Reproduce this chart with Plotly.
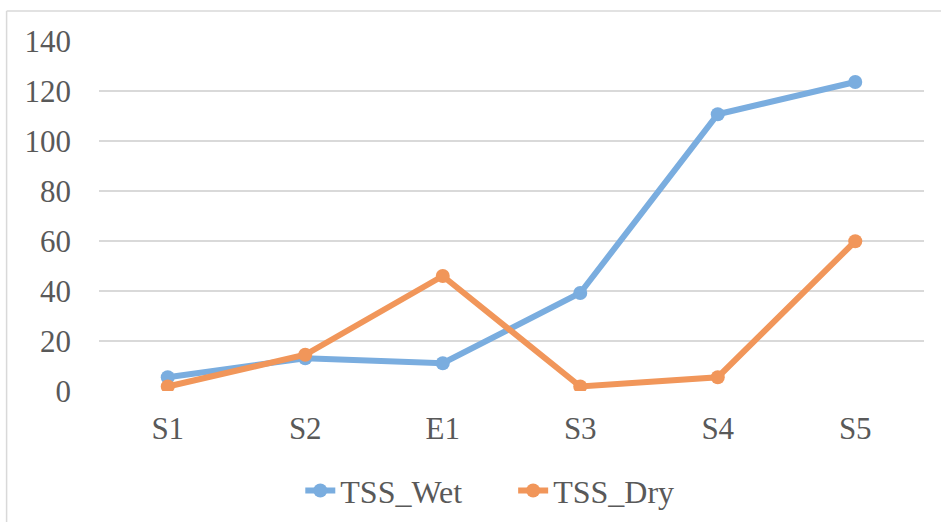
import plotly.graph_objects as go

# Sampling sites and total suspended solids per season
sites = ["S1", "S2", "E1", "S3", "S4", "S5"]
tss_wet = [5.5, 13.1, 11.1, 39.2, 110.7, 123.6]
tss_dry = [1.8, 14.5, 46.0, 1.8, 5.5, 59.9]
y_ticks = [0, 20, 40, 60, 80, 100, 120, 140]

BLUE = "#7AADDF"
ORANGE = "#F1965A"
TEXT = "#595959"
GRID = "#D9D9D9"
FONT = "Liberation Serif, Times New Roman, serif"

fig = go.Figure()
fig.add_trace(go.Scatter(
    x=sites, y=tss_wet, name="TSS_Wet", mode="lines+markers", legend="legend",
    line=dict(color=BLUE, width=6), marker=dict(color=BLUE, size=14),
))
fig.add_trace(go.Scatter(
    x=sites, y=tss_dry, name="TSS_Dry", mode="lines+markers", legend="legend2",
    line=dict(color=ORANGE, width=6), marker=dict(color=ORANGE, size=14),
))

# Chart-area frame (top and left edges)
fig.add_shape(type="line", xref="paper", yref="paper",
              x0=-0.112, x1=1.03, y0=1.0858, y1=1.0858,
              line=dict(color=GRID, width=1.5))
fig.add_shape(type="line", xref="paper", yref="paper",
              x0=-0.112, x1=-0.112, y0=1.0858, y1=-0.4,
              line=dict(color=GRID, width=1.5))

legend_style = dict(yanchor="middle", y=-0.285, xanchor="left",
                    font=dict(size=32, color=TEXT), bgcolor="rgba(0,0,0,0)")

fig.update_layout(
    width=941, height=522,
    margin=dict(l=99, r=17, t=41, b=131, autoexpand=False),
    paper_bgcolor="white", plot_bgcolor="white",
    font=dict(family=FONT, color=TEXT, size=31),
    showlegend=True,
    legend=dict(x=0.244, **legend_style),
    legend2=dict(x=0.502, **legend_style),
    xaxis=dict(type="category", range=[-0.5, 5.5], showgrid=False, showline=False,
               zeroline=False, ticks="", ticklabelstandoff=16,
               tickfont=dict(size=31, color=TEXT)),
    yaxis=dict(range=[0, 140], tickvals=y_ticks, showgrid=True, gridcolor=GRID,
               gridwidth=1.5, zeroline=False, showline=False, ticks="",
               ticklabelstandoff=27, tickfont=dict(size=31, color=TEXT)),
)

fig.write_html("out.html")
